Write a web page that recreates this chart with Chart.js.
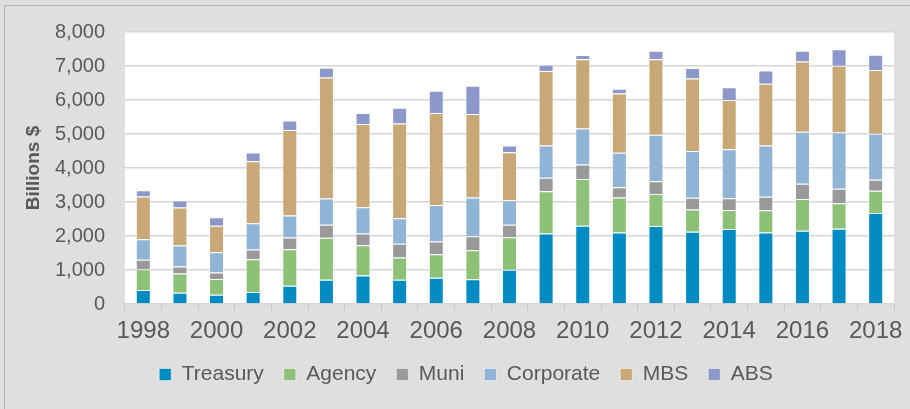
<!DOCTYPE html>
<html>
<head>
<meta charset="utf-8">
<script src="https://cdn.jsdelivr.net/npm/chart.js@4/dist/chart.umd.min.js"></script>
<style>
  html, body { margin: 0; padding: 0; background: #dedfde; overflow: hidden; }
  #wrap { position: relative; width: 910px; height: 409px; }
  #frame { position: absolute; left: 4px; top: 5px; width: 960px; height: 460px; border: 1px solid #b4b4b4; box-sizing: border-box; }
  #c { position: absolute; left: 0; top: 0; }
</style>
</head>
<body>
<div id="wrap">
  <div id="frame"></div>
  <canvas id="c" width="910" height="409"></canvas>
</div>
<script>
const years = ['1998','1999','2000','2001','2002','2003','2004','2005','2006','2007','2008','2009','2010','2011','2012','2013','2014','2015','2016','2017','2018'];
const treasury  = [410,330,275,355,540,715,835,715,775,725,1010,2070,2305,2100,2295,2125,2205,2100,2155,2215,2675];
const agency    = [610,570,460,960,1070,1235,890,655,685,855,950,1245,1370,1030,940,655,560,655,930,745,655];
const muni      = [285,205,195,285,345,380,345,400,380,410,370,400,430,305,375,345,345,400,450,430,325];
const corporate = [600,615,590,775,645,775,775,755,1070,1145,725,950,1060,1010,1370,1375,1440,1510,1530,1655,1355];
const mbs       = [1255,1120,785,1825,2520,3560,2450,2785,2705,2450,1405,2185,2030,1745,2215,2135,1450,1815,2070,1960,1870];
const abs       = [185,205,245,255,275,285,325,460,655,835,205,185,130,140,255,305,375,385,315,490,450];
const seriesNames = ['Treasury','Agency','Muni','Corporate','MBS','ABS'];
const seriesColors = ['#008bc2','#8dc178','#999999','#8fb4d6','#c8a877','#8c98ca'];
const yTicks = [0,1000,2000,3000,4000,5000,6000,7000,8000];

const seriesData = [treasury, agency, muni, corporate, mbs, abs];

const plotBg = {
  id: 'plotBg',
  beforeDraw(chart) {
    const {ctx, chartArea: a} = chart;
    ctx.save();
    ctx.fillStyle = '#ffffff';
    ctx.fillRect(a.left, a.top, a.right - a.left, a.bottom - a.top);
    ctx.restore();
  }
};

const textColor = '#595959';

new Chart(document.getElementById('c'), {
  type: 'bar',
  data: {
    labels: years,
    datasets: seriesNames.map((name, i) => ({
      label: name,
      data: seriesData[i],
      backgroundColor: seriesColors[i],
      borderColor: 'rgba(255,255,255,0.5)',
      borderWidth: 1,
      categoryPercentage: 1.0,
      barPercentage: 0.41
    }))
  },
  options: {
    responsive: false,
    animation: false,
    devicePixelRatio: 1,
    layout: { padding: { left: 38, right: 16, top: 32, bottom: 14 } },
    plugins: {
      tooltip: { enabled: false },
      legend: {
        position: 'bottom',
        align: 'center',
        labels: {
          boxWidth: 12,
          boxHeight: 12,
          padding: 20,
          color: textColor,
          font: { family: "'Liberation Sans', Arial, sans-serif", size: 21 }
        }
      }
    },
    scales: {
      x: {
        stacked: true,
        afterFit(scale) { scale.height = 40; },
        grid: { drawOnChartArea: false, drawTicks: true, tickLength: 7, color: '#c6c6c6', lineWidth: 1, offset: true },
        border: { display: false },
        ticks: {
          autoSkip: false,
          maxRotation: 0,
          padding: 6,
          color: textColor,
          font: { family: "'Liberation Sans', Arial, sans-serif", size: 24 },
          callback(value, index) { return index % 2 === 0 ? years[index] : ''; }
        }
      },
      y: {
        stacked: true,
        min: 0,
        max: 8000,
        afterFit(scale) { scale.width = 87; },
        afterBuildTicks(scale) { scale.ticks = yTicks.map(v => ({ value: v })); },
        grid: { drawTicks: false, color: '#d6d6d6', lineWidth: 1.5 },
        border: { display: false },
        title: {
          display: true,
          text: 'Billions $',
          color: textColor,
          padding: { top: -16, bottom: 0 },
          font: { family: "'Liberation Sans', Arial, sans-serif", size: 19, weight: 'bold' }
        },
        ticks: {
          padding: 20,
          color: textColor,
          font: { family: "'Liberation Sans', Arial, sans-serif", size: 20 },
          callback(value) { return value.toLocaleString('en-US'); }
        }
      }
    }
  },
  plugins: [plotBg]
});
</script>
</body>
</html>
